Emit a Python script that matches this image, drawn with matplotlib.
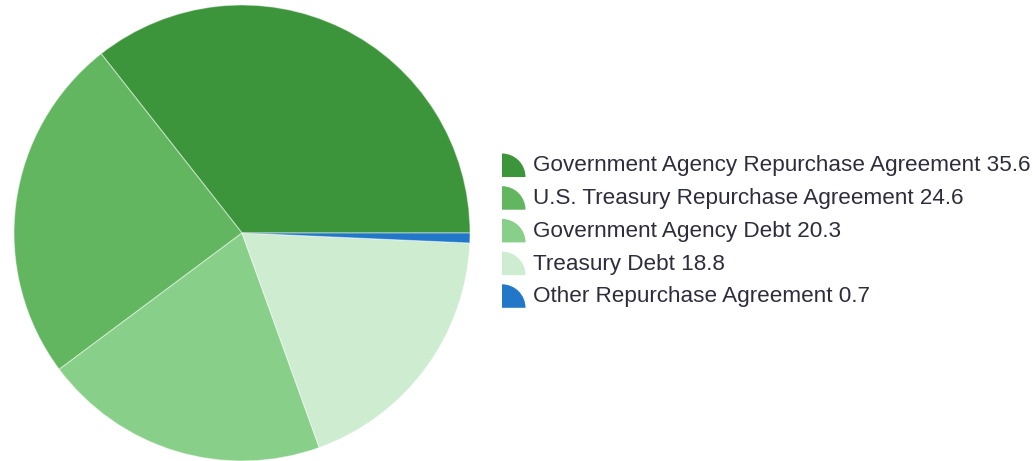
import matplotlib
matplotlib.use("Agg")
import matplotlib.pyplot as plt
from matplotlib.patches import Wedge

labels = ["Government Agency Repurchase Agreement", "U.S. Treasury Repurchase Agreement",
          "Government Agency Debt", "Treasury Debt", "Other Repurchase Agreement"]
values = [35.6, 24.6, 20.3, 18.8, 0.7]
colors = ["#3d953b", "#62b660", "#88cf89", "#cdecd0", "#2277c9"]

W, H = 1033, 461
fig = plt.figure(figsize=(W / 100, H / 100), dpi=100)
ax = fig.add_axes([0, 0, 1, 1])

ax.pie(values, colors=colors, startangle=0, counterclock=True,
       center=(242, H - 233), radius=228, frame=True,
       wedgeprops=dict(edgecolor=(1, 1, 1, 0.45), linewidth=0.8))

y0 = H - 166
dy = 32.7
for i, (lab, val, col) in enumerate(zip(labels, values, colors)):
    y = y0 - i * dy
    ax.add_patch(Wedge((502, y - 11), 23.5, 0, 90, facecolor=col, edgecolor="none"))
    ax.text(533, y, f"{lab} {val}", fontsize=16.2, color="#2d2d3c",
            family="Liberation Sans", va="center", ha="left")

ax.set_xlim(0, W)
ax.set_ylim(0, H)
ax.set_aspect("equal")
ax.axis("off")
fig.savefig("out.png", dpi=100)
